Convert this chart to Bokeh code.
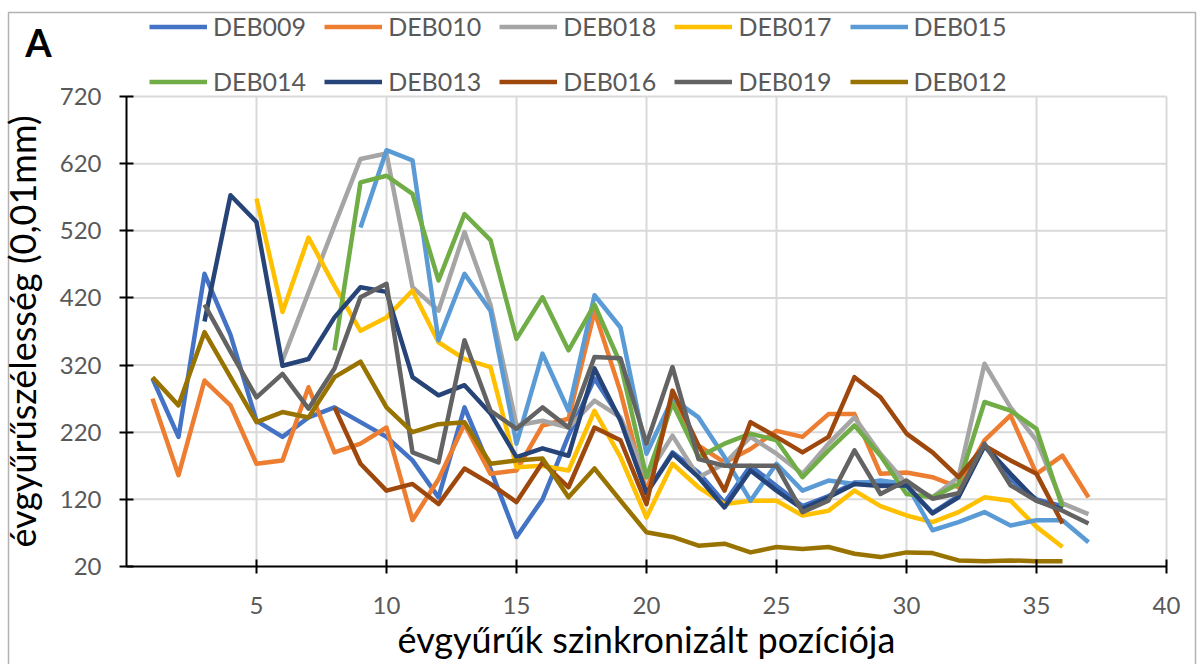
from bokeh.plotting import figure
from bokeh.models import Legend, LegendItem, FixedTicker, Range1d, Label, BoxAnnotation
from bokeh.embed import file_html
from bokeh.resources import INLINE

# ---- data ----
names = ["DEB009", "DEB010", "DEB018", "DEB017", "DEB015",
         "DEB014", "DEB013", "DEB016", "DEB019", "DEB012"]
colors = ["#4472C4", "#ED7D31", "#A5A5A5", "#FFC000", "#5B9BD5",
          "#70AD47", "#264478", "#9E480E", "#636363", "#997300"]

# first synchronized position of each series
starts = [1, 1, 6, 5, 9, 8, 3, 8, 3, 1]

deb009 = [300, 213, 456, 365, 237, 213, 242, 257, 235, 213, 178, 123, 257, 165, 64, 120,
          215, 300, 240, 130, 190, 160, 115, 170, 140, 110, 125, 145, 145, 140, 100, 125,
          200, 150, 120, 110]
deb010 = [270, 156, 297, 260, 173, 178, 287, 190, 203, 227, 89, 150, 232, 158, 163, 230,
          240, 400, 280, 130, 270, 200, 175, 195, 222, 213, 247, 247, 158, 160, 153, 138,
          208, 245, 158, 185, 123]
deb018 = [327, 428, 528, 627, 635, 436, 401, 518, 410, 230, 237, 227, 267, 242, 153, 215,
          153, 173, 213, 188, 158, 203, 242, 188, 143, 123, 153, 322, 257, 208, 114, 98]
deb017 = [568, 399, 510, 438, 371, 391, 431, 354, 329, 317, 168, 170, 163, 252, 183, 93,
          173, 138, 113, 118, 118, 96, 103, 133, 110, 96, 86, 101, 123, 118, 79, 49]
deb015 = [525, 640, 625, 357, 456, 401, 203, 337, 252, 424, 376, 188, 270, 242, 183, 118,
          173, 133, 148, 143, 148, 143, 74, 86, 101, 81, 89, 89, 56]
deb014 = [342, 592, 602, 575, 446, 545, 506, 359, 421, 342, 410, 322, 153, 263, 183, 203,
          218, 208, 153, 193, 230, 185, 128, 123, 143, 265, 252, 225, 108]
deb013 = [385, 573, 533, 319, 329, 391, 436, 429, 302, 275, 290, 248, 183, 196, 185, 315,
          237, 129, 188, 153, 108, 163, 133, 106, 123, 143, 140, 141, 99, 123, 200, 158,
          118, 105]
deb016 = [257, 173, 133, 143, 113, 166, 143, 116, 175, 138, 227, 208, 113, 282, 200, 133,
          235, 213, 190, 213, 302, 272, 218, 190, 153, 200, 178, 158, 84]
deb019 = [410, 340, 272, 307, 255, 315, 421, 441, 190, 175, 357, 252, 225, 257, 227, 332,
          330, 203, 317, 180, 170, 170, 170, 101, 118, 193, 128, 148, 121, 129, 203, 141,
          118, 103, 84]
deb012 = [302, 260, 369, 302, 235, 250, 242, 302, 325, 257, 220, 232, 235, 173, 178, 181,
          123, 166, 118, 71, 64, 51, 54, 41, 49, 46, 49, 39, 34, 41, 40, 29, 28, 29, 28, 28]

values = [deb009, deb010, deb018, deb017, deb015, deb014, deb013, deb016, deb019, deb012]

x_ticks = [5, 10, 15, 20, 25, 30, 35, 40]
y_ticks = [20, 120, 220, 320, 420, 520, 620, 720]
X_MIN, X_MAX = 0, 40
Y_MIN, Y_MAX = 20, 720

FONT = "Lato"

# ---- layout: the frame covers the whole canvas; axes are pinned at x=0 / y=20 ----
W, H = 1198, 664
AX_LEFT, AX_RIGHT = 126, 1166      # screen x of x=0 and x=40
AX_TOP, AX_BOTTOM = 96, 566        # screen y of y=720 and y=20
sx = (AX_RIGHT - AX_LEFT) / (X_MAX - X_MIN)
sy = (AX_BOTTOM - AX_TOP) / (Y_MAX - Y_MIN)
x_range = Range1d(X_MIN - AX_LEFT / sx, X_MAX + (W - AX_RIGHT) / sx)
y_range = Range1d(Y_MIN - (H - AX_BOTTOM) / sy, Y_MAX + AX_TOP / sy)

p = figure(width=W, height=H, output_backend="svg", toolbar_location=None,
           x_range=x_range, y_range=y_range,
           min_border=0, min_border_left=0, min_border_right=0,
           min_border_top=0, min_border_bottom=0,
           background_fill_color="white", border_fill_color="white")
p.outline_line_color = None
p.xgrid.visible = False
p.ygrid.visible = False

# grid lines limited to the data area
p.segment(x0=x_ticks, y0=[Y_MIN] * len(x_ticks), x1=x_ticks, y1=[Y_MAX] * len(x_ticks),
          line_color="#D9D9D9", line_width=2)
p.segment(x0=[X_MIN] * (len(y_ticks) - 1), y0=y_ticks[1:], x1=[X_MAX] * (len(y_ticks) - 1),
          y1=y_ticks[1:], line_color="#D9D9D9", line_width=2)

renderers = []
for name, col, st, vals in zip(names, colors, starts, values):
    xs = list(range(st, st + len(vals)))
    r = p.line(xs, vals, line_color=col, line_width=4.5, line_join="round")
    renderers.append(r)

# axes
xa, ya = p.xaxis[0], p.yaxis[0]
xa.fixed_location = Y_MIN
ya.fixed_location = X_MIN
xa.bounds = (X_MIN, X_MAX)
ya.bounds = (Y_MIN, Y_MAX)
for ax in (xa, ya):
    ax.axis_line_color = "black"
    ax.axis_line_width = 2
    ax.major_tick_line_color = "black"
    ax.major_tick_line_width = 2
    ax.major_tick_in = 7
    ax.major_tick_out = 7
    ax.minor_tick_line_color = None
    ax.major_label_text_font = FONT
    ax.major_label_text_font_size = "24px"
    ax.major_label_text_color = "#595959"
    ax.axis_label_text_font = FONT
    ax.axis_label_text_font_style = "normal"
    ax.axis_label_text_color = "black"

xa.ticker = FixedTicker(ticks=x_ticks)
ya.ticker = FixedTicker(ticks=y_ticks)
xa.major_label_standoff = 23
ya.major_label_standoff = 18
xa.axis_label = "évgyűrűk szinkronizált pozíciója"
ya.axis_label = "évgyűrűszélesség (0,01mm)"
xa.axis_label_text_font_size = "36px"
ya.axis_label_text_font_size = "36px"
xa.axis_label_standoff = 0
ya.axis_label_standoff = 13

# legends (two rows above the data area)
leg_style = dict(glyph_width=58, glyph_height=29, label_height=29, label_standoff=6,
                 spacing=18, padding=0, margin=0, border_line_color=None,
                 background_fill_alpha=0, label_text_font=FONT,
                 label_text_font_size="25px", label_text_color="#595959")

row1 = Legend(items=[LegendItem(label=names[i], renderers=[renderers[i]]) for i in range(0, 5)],
              orientation="horizontal", location=(149, H - 41), **leg_style)
row2 = Legend(items=[LegendItem(label=names[i], renderers=[renderers[i]]) for i in range(5, 10)],
              orientation="horizontal", location=(149, H - 96), **leg_style)
p.add_layout(row1)
p.add_layout(row2)

p.add_layout(Label(x=38, y=H - 41, x_units="screen", y_units="screen", text="A",
                   text_font=FONT, text_font_size="38px", text_font_style="bold",
                   text_align="center", text_baseline="middle", text_color="black"))

# thin frame around the panel, as in the reference
p.add_layout(BoxAnnotation(left=8, right=1195, top=H - 12, bottom=-20,
                           left_units="screen", right_units="screen",
                           top_units="screen", bottom_units="screen",
                           fill_alpha=0, line_color="black", line_width=1.5))

open("out.html", "w").write(file_html(p, INLINE))
